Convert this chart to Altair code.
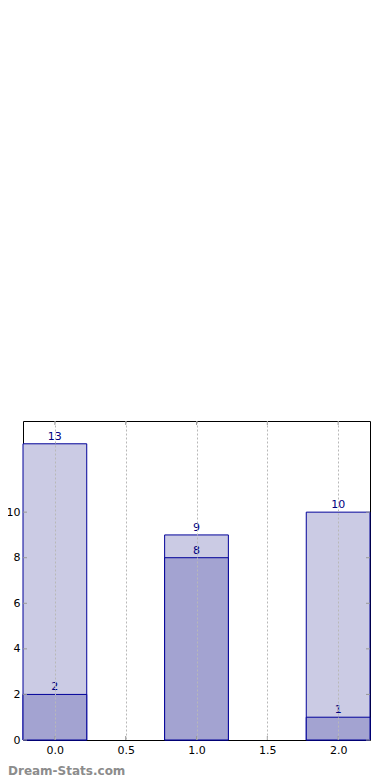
import altair as alt
import pandas as pd

positions = [0.0, 1.0, 2.0]
totals = [13, 9, 10]
subs = [2, 8, 1]
xticks = [0.0, 0.5, 1.0, 1.5, 2.0]
yticks = [0, 2, 4, 6, 8, 10]
bar_width = 0.45

df = pd.DataFrame({"pos": positions, "total": totals, "sub": subs})
df["left"] = df["pos"] - bar_width / 2
df["right"] = df["pos"] + bar_width / 2
dfx = pd.DataFrame({"t": xticks})
dfy = pd.DataFrame({"t": yticks})

W, H = 347, 319
PL = 15
font = "DejaVu Sans"
xscale = alt.Scale(domain=[-0.225, 2.225], nice=False, zero=False)
yscale = alt.Scale(domain=[0, 14], nice=False)

xaxis = alt.Axis(values=xticks, format=".1f", grid=True, gridColor="#b8b8b8", gridDash=[2, 2],
                 gridWidth=1, ticks=False, domain=False, labelPadding=4, labelFontSize=11,
                 labelFont=font, labelColor="black", title=None, zindex=1)
yaxis = alt.Axis(values=yticks, grid=False, ticks=False, domain=False, labelPadding=3,
                 labelFontSize=11, labelFont=font, labelColor="black", title=None)

base = alt.Chart(df)
light = base.mark_bar(fill="#cbcbe4", stroke="#000099", strokeWidth=1).encode(
    x=alt.X("left:Q", scale=xscale, axis=xaxis), x2="right:Q",
    y=alt.Y("total:Q", scale=yscale, axis=yaxis), y2=alt.datum(0))
dark = base.mark_bar(fill="#a3a3d1", stroke="#000099", strokeWidth=1).encode(
    x=alt.X("left:Q", scale=xscale), x2="right:Q",
    y=alt.Y("sub:Q", scale=yscale), y2=alt.datum(0))
t1 = base.mark_text(color="#000080", font=font, fontSize=11, baseline="bottom", dy=-2).encode(
    x=alt.X("pos:Q", scale=xscale), y=alt.Y("total:Q", scale=yscale), text="total:Q")
t2 = base.mark_text(color="#000080", font=font, fontSize=11, baseline="bottom", dy=-2).encode(
    x=alt.X("pos:Q", scale=xscale), y=alt.Y("sub:Q", scale=yscale), text="sub:Q")

tc = "#999999"
ytl = alt.Chart(dfy).mark_rule(color=tc).encode(y=alt.Y("t:Q", scale=yscale), x=alt.value(0), x2=alt.value(4))
ytr = alt.Chart(dfy).mark_rule(color=tc).encode(y=alt.Y("t:Q", scale=yscale), x=alt.value(W - 4), x2=alt.value(W))
xtb = alt.Chart(dfx).mark_rule(color=tc).encode(x=alt.X("t:Q", scale=xscale), y=alt.value(H - 4), y2=alt.value(H))
xtt = alt.Chart(dfx).mark_rule(color=tc).encode(x=alt.X("t:Q", scale=xscale), y=alt.value(0), y2=alt.value(4))

brand = alt.Chart(pd.DataFrame({"s": ["Dream-Stats.com"]})).mark_text(
    color="#8c8c8c", font=font, fontSize=12, fontWeight="bold", align="left", baseline="middle").encode(
    x=alt.value(-PL), y=alt.value(H + 31), text="s:N")

chart = alt.layer(light, dark, t1, t2, ytl, ytr, xtb, xtt, brand).properties(
    width=W, height=H, padding={"left": PL, "top": 413, "right": 12, "bottom": 40},
    autosize=alt.AutoSizeParams(type="none")
).configure_view(stroke="black", strokeWidth=1)

chart.save("out.html", embed_options={"renderer": "svg", "actions": False})
